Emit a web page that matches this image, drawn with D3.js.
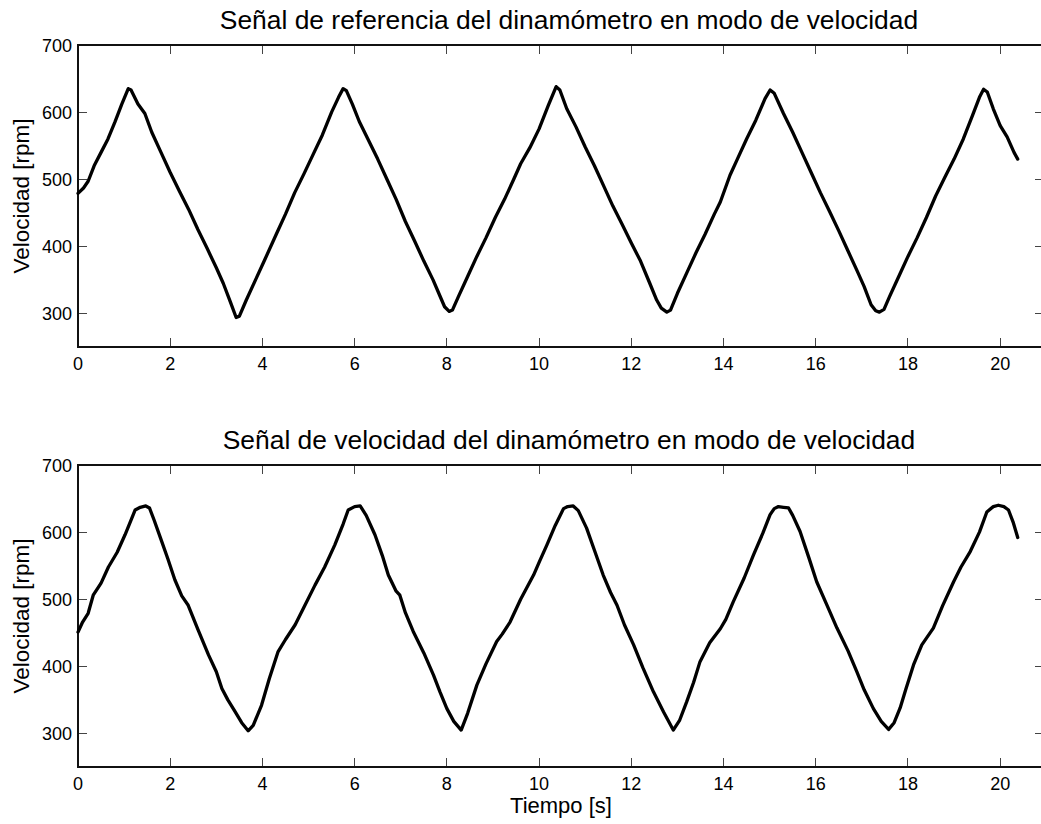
<!DOCTYPE html>
<html>
<head>
<meta charset="utf-8">
<script src="https://cdn.jsdelivr.net/npm/d3@7"></script>
<style>
  html, body { margin: 0; padding: 0; background: #fff; }
  svg { display: block; }
  text { font-family: "Liberation Sans", Arial, Helvetica, sans-serif; fill: #000; }
</style>
</head>
<body>
<svg id="chart" width="1041" height="824"></svg>
<script>
// ---- Data ----
const titles = [
  "Señal de referencia del dinamómetro en modo de velocidad",
  "Señal de velocidad del dinamómetro en modo de velocidad"
];
const yLabel = "Velocidad [rpm]";
const xLabel = "Tiempo [s]";
const xTicks = [0, 2, 4, 6, 8, 10, 12, 14, 16, 18, 20];
const yTicks = [300, 400, 500, 600, 700];
const xDomain = [0, 20.95];
const yDomain = [250, 700];

// Reference signal (top)
const refT = [0,0.12,0.22,0.35,0.5,0.65,0.8,0.95,1.09,1.15,1.3,1.45,1.6,1.8,2.0,2.2,2.4,2.6,2.8,3.0,3.15,3.3,3.43,3.5,3.65,3.85,4.05,4.3,4.5,4.7,4.9,5.1,5.3,5.5,5.65,5.75,5.82,5.95,6.1,6.3,6.5,6.7,6.9,7.1,7.3,7.5,7.7,7.85,7.95,8.05,8.12,8.25,8.45,8.65,8.85,9.05,9.25,9.45,9.6,9.8,10.0,10.2,10.37,10.45,10.6,10.8,11.0,11.2,11.4,11.6,11.8,12.0,12.2,12.4,12.55,12.65,12.77,12.85,13.0,13.2,13.4,13.6,13.8,13.93,14.14,14.3,14.5,14.7,14.9,15.01,15.1,15.3,15.5,15.7,15.9,16.1,16.3,16.5,16.7,16.9,17.05,17.2,17.3,17.38,17.48,17.6,17.8,18.0,18.2,18.4,18.6,18.8,19.0,19.2,19.4,19.55,19.64,19.72,19.85,20.0,20.15,20.3,20.38];
const refV = [479,487,497,520,540,560,585,612,635,633,612,598,570,540,510,482,455,425,397,368,345,318,294,296,320,350,380,418,448,480,508,537,566,600,622,635,632,612,586,558,530,500,470,437,408,378,350,326,310,303,305,325,355,385,413,443,470,500,523,547,575,610,638,633,605,578,548,520,490,460,433,405,378,345,320,308,302,305,330,360,390,418,448,466,506,530,560,588,620,633,628,598,570,540,510,480,452,423,393,363,340,313,304,302,306,325,355,385,413,443,475,503,530,560,595,622,634,630,605,580,563,540,530];

// Measured speed signal (bottom)
const spdT = [0,0.1,0.22,0.33,0.5,0.66,0.85,1.02,1.15,1.24,1.35,1.47,1.55,1.65,1.79,1.95,2.1,2.25,2.39,2.6,2.83,3.0,3.12,3.25,3.41,3.55,3.69,3.8,3.98,4.15,4.34,4.5,4.71,4.9,5.14,5.35,5.57,5.75,5.86,6.0,6.12,6.25,6.44,6.6,6.73,6.9,6.98,7.1,7.27,7.5,7.71,7.85,8.0,8.15,8.31,8.45,8.65,8.85,9.08,9.2,9.37,9.6,9.88,10.0,10.17,10.35,10.53,10.62,10.74,10.85,11.03,11.2,11.39,11.55,11.69,11.85,12.05,12.25,12.48,12.7,12.91,13.05,13.2,13.35,13.49,13.7,13.93,14.05,14.21,14.45,14.65,14.85,15.01,15.1,15.19,15.3,15.41,15.5,15.66,15.85,16.02,16.25,16.46,16.7,16.89,17.05,17.25,17.42,17.58,17.7,17.83,17.95,18.12,18.3,18.55,18.75,18.99,19.15,19.35,19.55,19.71,19.85,19.96,20.08,20.18,20.28,20.38];
const spdV = [451,466,479,506,524,548,570,596,618,633,637,639,636,618,591,560,529,505,491,455,417,392,367,350,332,316,304,312,342,382,422,440,462,488,521,548,581,612,633,638,639,625,596,565,536,512,506,480,452,420,387,362,337,318,305,330,372,404,437,448,466,500,536,555,581,610,635,638,639,632,606,573,536,510,491,462,432,398,362,332,305,320,347,376,407,435,456,470,496,532,566,598,626,635,638,637,636,625,601,562,526,490,457,423,392,365,337,318,306,316,338,365,402,432,457,490,526,548,571,600,630,638,640,638,633,615,592];

const series = [
  { t: refT, v: refV },
  { t: spdT, v: spdV }
];

// ---- Layout ----
const svg = d3.select("#chart");
const left = 78, right = 1044;
const panels = [
  { top: 45, bottom: 347 },
  { top: 465, bottom: 767 }
];
const tickLen = 9;

panels.forEach((p, i) => {
  const x = d3.scaleLinear().domain(xDomain).range([left, right]);
  const y = d3.scaleLinear().domain(yDomain).range([p.bottom, p.top]);
  const g = svg.append("g");

  const tickColor = "#444";
  g.selectAll(".xtb").data(xTicks).enter().append("line")
    .attr("x1", d => x(d)).attr("x2", d => x(d))
    .attr("y1", p.bottom).attr("y2", p.bottom - tickLen)
    .attr("stroke", tickColor).attr("stroke-width", 1).attr("shape-rendering", "crispEdges");
  g.selectAll(".xtt").data(xTicks).enter().append("line")
    .attr("x1", d => x(d)).attr("x2", d => x(d))
    .attr("y1", p.top).attr("y2", p.top + tickLen)
    .attr("stroke", tickColor).attr("stroke-width", 1).attr("shape-rendering", "crispEdges");
  g.selectAll(".ytl").data(yTicks).enter().append("line")
    .attr("x1", left).attr("x2", left + tickLen)
    .attr("y1", d => y(d)).attr("y2", d => y(d))
    .attr("stroke", tickColor).attr("stroke-width", 1).attr("shape-rendering", "crispEdges");
  g.selectAll(".ytr").data(yTicks).enter().append("line")
    .attr("x1", right).attr("x2", right - tickLen)
    .attr("y1", d => y(d)).attr("y2", d => y(d))
    .attr("stroke", tickColor).attr("stroke-width", 1).attr("shape-rendering", "crispEdges");

  g.append("rect")
    .attr("x", left).attr("y", p.top)
    .attr("width", right - left).attr("height", p.bottom - p.top)
    .attr("fill", "none").attr("stroke", "#111").attr("stroke-width", 1.3)
    .attr("shape-rendering", "crispEdges");

  g.selectAll(".xl").data(xTicks).enter().append("text")
    .attr("x", d => x(d)).attr("y", p.bottom + 23)
    .attr("text-anchor", "middle").attr("font-size", 18)
    .text(d => d);
  g.selectAll(".yl").data(yTicks).enter().append("text")
    .attr("x", left - 6).attr("y", d => y(d) + 6.5)
    .attr("text-anchor", "end").attr("font-size", 18)
    .text(d => d);

  g.append("text")
    .attr("transform", `translate(28.5,${(p.top + p.bottom) / 2}) rotate(-90)`)
    .attr("text-anchor", "middle").attr("font-size", 22.5)
    .text(yLabel);

  g.append("text")
    .attr("x", (left + right) / 2 + 8).attr("y", p.top - 16)
    .attr("text-anchor", "middle").attr("font-size", 26.4)
    .text(titles[i]);

  const s = series[i];
  const pts = s.t.map((t, k) => [t, s.v[k]]);
  const line = d3.line().x(d => x(d[0])).y(d => y(d[1])).curve(d3.curveLinear);
  g.append("path").datum(pts)
    .attr("d", line)
    .attr("fill", "none").attr("stroke", "#000")
    .attr("stroke-width", 3.3).attr("stroke-linejoin", "round").attr("stroke-linecap", "round");

  if (i === 1) {
    g.append("text")
      .attr("x", (left + right) / 2).attr("y", p.bottom + 46)
      .attr("text-anchor", "middle").attr("font-size", 22)
      .text(xLabel);
  }
});
</script>
</body>
</html>
